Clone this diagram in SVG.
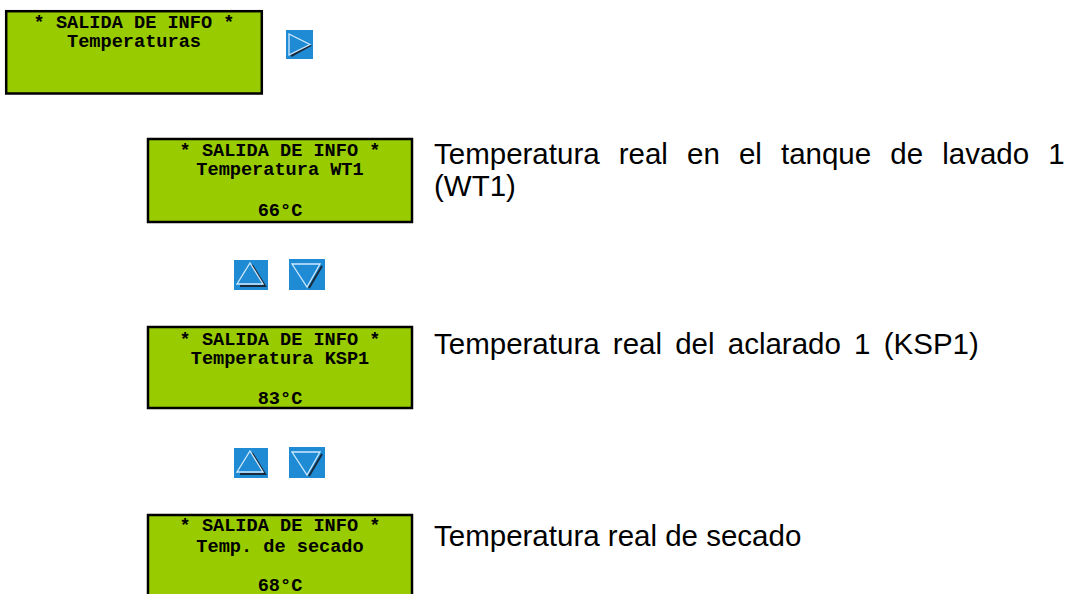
<svg xmlns="http://www.w3.org/2000/svg" width="1074" height="594" viewBox="0 0 1074 594">
<defs>
<style>
.lcd{fill:#99cc00;stroke:#000;stroke-width:2.5}
.lt{font-family:"Liberation Mono","Courier New",monospace;font-weight:bold;font-size:18.6px;fill:#000;text-anchor:middle}
.desc{font-family:"Liberation Sans",Arial,sans-serif;font-size:29.5px;fill:#000}
.btn{fill:#1e8bd4}
.hi{fill:none;stroke:#cfe9ff;stroke-width:1.3}
.sh{fill:none;stroke:#1a2a3a;stroke-width:2}
</style>
</defs>
<rect width="1074" height="594" fill="#fff"/>
<g id="lcd-temperaturas">
<rect class="lcd" x="6.2" y="11.2" width="255.6" height="82.3"/>
<text class="lt" x="134" y="27.5">* SALIDA DE INFO *</text>
<text class="lt" x="134" y="47">Temperaturas</text>
</g>
<g id="btn-right">
<rect class="btn" x="286" y="30" width="27" height="29"/>
<polyline class="sh" points="311,45 291,56"/>
<polygon class="hi" points="289,34 310,44.5 289,55"/>
</g>
<g id="lcd-wt1">
<rect class="lcd" x="148" y="139" width="264" height="83"/>
<text class="lt" x="280" y="156">* SALIDA DE INFO *</text>
<text class="lt" x="280" y="175">Temperatura WT1</text>
<text class="lt" x="280" y="216">66°C</text>
</g>
<text id="desc-wt1" class="desc" x="434" y="164" word-spacing="10.9">Temperatura real en el tanque de lavado 1</text>
<text id="desc-wt1b" class="desc" x="434" y="196">(WT1)</text>
<g id="btn-up-1">
<rect class="btn" x="234" y="260" width="34" height="30"/>
<polyline class="sh" points="252,265 265,286 240,286"/>
<polygon class="hi" points="250,263 263,284 237,284"/>
</g>
<g id="btn-down-1">
<rect class="btn" x="289" y="259" width="36" height="31"/>
<polyline class="sh" points="322,266 309,288"/>
<polygon class="hi" points="292,264 320,264 307,287"/>
</g>
<g id="lcd-ksp1">
<rect class="lcd" x="148" y="327" width="264" height="81"/>
<text class="lt" x="280" y="345">* SALIDA DE INFO *</text>
<text class="lt" x="280" y="363.5">Temperatura KSP1</text>
<text class="lt" x="280" y="404">83°C</text>
</g>
<text id="desc-ksp1" class="desc" x="434" y="354" word-spacing="5">Temperatura real del aclarado 1 (KSP1)</text>
<g id="btn-up-2">
<rect class="btn" x="234" y="448" width="34" height="30"/>
<polyline class="sh" points="252,453 265,474 240,474"/>
<polygon class="hi" points="250,451 263,472 237,472"/>
</g>
<g id="btn-down-2">
<rect class="btn" x="289" y="447" width="36" height="31"/>
<polyline class="sh" points="322,454 309,476"/>
<polygon class="hi" points="292,452 320,452 307,475"/>
</g>
<g id="lcd-secado">
<rect class="lcd" x="148" y="515" width="264" height="100"/>
<text class="lt" x="280" y="531">* SALIDA DE INFO *</text>
<text class="lt" x="280" y="552">Temp. de secado</text>
<text class="lt" x="280" y="591">68°C</text>
</g>
<text id="desc-secado" class="desc" x="434" y="546">Temperatura real de secado</text>
</svg>
